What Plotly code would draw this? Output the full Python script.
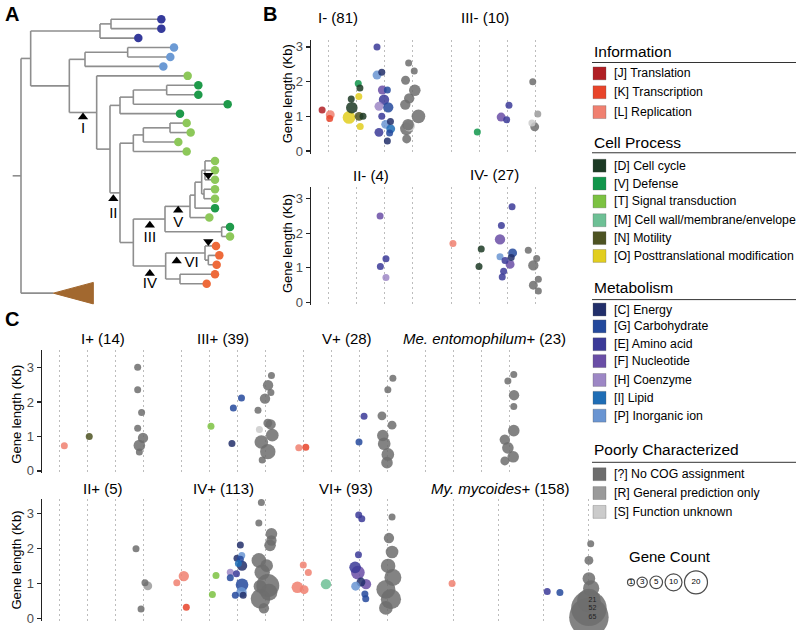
import math
import plotly.graph_objects as go

W, H = 800, 630
FONT = "Liberation Sans, Arial, Helvetica, sans-serif"

# ---------------- COG categories ----------------
COG_COLORS = {
    "J": "#B01F24", "K": "#E8442A", "L": "#F08070",
    "D": "#1C3A24", "V": "#11964B", "T": "#7CC242", "M": "#6DC095", "N": "#4D5322", "O": "#E2CE1F",
    "C": "#222F6A", "G": "#24499C", "E": "#3B3A98", "F": "#6A4EA6", "H": "#9D87C5", "I": "#1F6DB5", "P": "#6A95D2",
    "?": "#6D6D6D", "R": "#9A9A9A", "S": "#CBCBCB",
}
COG_LABELS = {
    "J": "[J] Translation", "K": "[K] Transcription", "L": "[L] Replication",
    "D": "[D] Cell cycle", "V": "[V] Defense", "T": "[T] Signal transduction",
    "M": "[M] Cell wall/membrane/envelope", "N": "[N] Motility", "O": "[O] Posttranslational modification",
    "C": "[C] Energy", "G": "[G] Carbohydrate", "E": "[E] Amino acid", "F": "[F] Nucleotide",
    "H": "[H] Coenzyme", "I": "[I] Lipid", "P": "[P] Inorganic ion",
    "?": "[?] No COG assignment", "R": "[R] General prediction only", "S": "[S] Function unknown",
}
LEGEND_GROUPS = [
    ("Information", ["J", "K", "L"]),
    ("Cell Process", ["D", "V", "T", "M", "N", "O"]),
    ("Metabolism", ["C", "G", "E", "F", "H", "I", "P"]),
    ("Poorly Characterized", ["?", "R", "S"]),
]
COG_GROUP = {c: gi + 1 for gi, (_, cs) in enumerate(LEGEND_GROUPS) for c in cs}
GENE_COUNT_KEYS = [1, 3, 5, 10, 20]

# ---------------- Panel B data ----------------
# I- (81)
bI_cog = ["J", "L", "K", "V", "D", "O", "D", "D", "O", "N", "D", "O",
          "E", "C", "P", "F", "G", "E", "H", "G", "E", "P", "C", "E", "I", "G", "C",
          "?", "?", "?", "?", "?", "?", "?", "S", "?", "?", "?"]
bI_dx = [-0.21, 0.08, 0.06, 0.08, 0.14, 0.10, -0.17, -0.15, -0.25, 0.11, 0.25, 0.15,
         -0.25, -0.08, -0.25, -0.06, 0.12, 0.0, -0.18, 0.15, -0.08, 0.06, 0.23, -0.18, 0.24, 0.2, 0.12,
         -0.12, 0.08, -0.23, 0.1, -0.1, -0.24, 0.23, -0.1, -0.2, -0.14, -0.19]
bI_kb = [1.18, 1.05, 0.94, 1.95, 1.82, 1.57, 1.50, 1.25, 0.97, 1.0, 1.0, 0.71,
         3.0, 2.27, 2.19, 1.76, 1.76, 1.48, 1.29, 1.26, 1.0, 0.77, 0.85, 0.54, 0.64, 0.52, 0.29,
         2.54, 2.31, 2.04, 1.75, 1.52, 1.34, 1.0, 0.73, 0.64, 0.76, 0.35]
bI_n = [1, 2, 1, 1, 1, 1, 1, 4, 5, 2, 1, 1,
        1, 1, 2, 2, 1, 3, 2, 3, 1, 2, 1, 2, 2, 1, 1,
        1, 1, 2, 4, 3, 3, 6, 4, 5, 4, 2]

# III- (10)
bIII_cog = ["V", "E", "F", "E", "?", "R", "S", "?"]
bIII_dx = [-0.06, 0.07, -0.21, -0.01, -0.08, 0.1, -0.11, -0.01]
bIII_kb = [0.55, 1.32, 0.98, 0.9, 2.0, 1.07, 0.81, 0.70]
bIII_n = [1, 1, 2, 1, 1, 1, 1, 2]

# II- (4)
bII_cog = ["F", "E", "E", "H"]
bII_dx = [-0.14, 0.07, -0.13, 0.07]
bII_kb = [2.49, 1.26, 1.04, 0.72]
bII_n = [1, 1, 1, 1]

# IV- (27)
bIV_cog = ["L", "D", "D", "E", "E", "F", "G", "P", "C", "E", "F", "E", "E",
           "?", "?", "?", "?", "?", "?"]
bIV_dx = [0.07, 0.08, 0.0, 0.18, -0.2, -0.25, 0.2, -0.25, 0.15, -0.07, 0.11, -0.12, -0.17,
          -0.24, 0.06, -0.06, 0.12, -0.06, 0.12]
bIV_kb = [1.70, 1.54, 1.04, 2.76, 2.22, 1.82, 1.43, 1.32, 1.3, 1.21, 1.1, 0.9, 0.74,
          1.51, 1.27, 1.07, 0.67, 0.5, 0.33]
bIV_n = [1, 1, 1, 1, 1, 3, 2, 1, 1, 1, 2, 1, 1,
         1, 1, 3, 1, 2, 1]

# ---------------- Panel C data ----------------
# I+ (14)
cI_cog = ["L", "N", "?", "?", "?", "?", "?", "?", "?"]
cI_dx = [0.19, 0.08, -0.19, -0.19, -0.05, -0.19, 0.0, -0.13, -0.13]
cI_kb = [0.73, 1.0, 3.01, 2.36, 1.70, 1.24, 0.96, 0.74, 0.55]
cI_n = [1, 1, 1, 1, 1, 1, 3, 4, 1]

# III+ (39)
cIII_cog = ["T", "G", "G", "C", "?", "?", "?", "?", "?", "?", "?", "S", "?", "?", "?", "?"]
cIII_dx = [0.07, 0.16, -0.13, -0.18, 0.23, 0.11, 0.21, 0.0, -0.25, 0.1, 0.2, -0.2, 0.26, -0.13, 0.1, -0.1]
cIII_kb = [1.30, 2.12, 1.83, 0.80, 2.77, 2.49, 2.28, 2.10, 1.76, 1.39, 1.35, 1.2, 1.04, 0.84, 0.56, 0.32]
cIII_n = [1, 1, 1, 1, 1, 3, 1, 3, 1, 2, 3, 1, 5, 6, 8, 1]

# V+ (28)
cV_cog = ["L", "K", "E", "G", "?", "?", "?", "?", "?", "?", "?", "?"]
cV_dx = [-0.15, 0.1, 0.18, 0.0, 0.21, 0.03, -0.18, 0.18, -0.15, -0.1, 0.03, 0.0]
cV_kb = [0.67, 0.69, 1.59, 0.84, 2.69, 2.36, 1.6, 1.33, 1.03, 0.79, 0.48, 0.24]
cV_n = [1, 1, 1, 1, 1, 1, 2, 2, 4, 5, 5, 4]

# Me. entomophilum+ (23)
cMe_cog = ["?", "?", "?", "?", "?", "?", "?", "?", "?"]
cMe_dx = [0.17, -0.04, 0.18, 0.17, 0.17, -0.15, -0.04, 0.15, -0.15]
cMe_kb = [2.8, 2.61, 2.2, 1.87, 1.17, 0.91, 0.67, 0.41, 0.29]
cMe_n = [1, 1, 3, 1, 4, 3, 4, 4, 2]

# II+ (5)
cII_cog = ["?", "?", "R", "?"]
cII_dx = [-0.25, 0.07, 0.17, -0.07]
cII_kb = [1.99, 1.02, 0.93, 0.27]
cII_n = [1, 1, 2, 1]

# IV+ (113)
cIV_cog = ["L", "L", "K", "T", "T",
           "C", "C", "P", "G", "I", "C", "H", "E", "G", "G", "P", "G", "C",
           "?", "?", "?", "?", "?", "?", "?", "?", "?", "?", "?", "?", "?"]
cIV_dx = [-0.15, 0.1, 0.19, 0.25, 0.12,
          0.12, 0.0, 0.17, 0.12, 0.05, 0.18, -0.24, -0.02, -0.24, 0.18, 0.16, -0.06, 0.22,
          -0.13, -0.22, 0.23, 0.23, 0.18, -0.22, 0.06, -0.1, 0.1, -0.18, 0.14, -0.16, -0.04]
cIV_kb = [1.02, 1.21, 0.32, 1.23, 0.68,
          2.1, 1.72, 1.8, 1.69, 1.57, 1.51, 1.32, 1.28, 1.16, 0.96, 0.75, 0.66, 0.66,
          3.32, 2.73, 2.42, 2.23, 2.09, 1.66, 1.51, 1.32, 0.94, 0.92, 0.75, 0.56, 0.29]
cIV_n = [1, 3, 1, 1, 1,
         1, 1, 1, 1, 1, 3, 1, 1, 1, 5, 3, 1, 1,
         1, 1, 4, 3, 4, 7, 5, 8, 20, 5, 10, 14, 3]

# VI+ (93)
cVI_cog = ["L", "L", "L", "L", "M",
           "E", "E", "E", "E", "F", "C", "F", "P", "G", "G",
           "?", "?", "?", "?", "?", "?", "?", "?"]
cVI_dx = [0.01, 0.19, -0.2, 0.04, -0.18,
          -0.01, 0.1, -0.02, -0.14, -0.04, 0.07, 0.25, -0.12, 0.21, 0.24,
          0.18, 0.07, 0.18, 0.04, 0.21, -0.04, 0.14, -0.04]
cVI_kb = [1.53, 1.31, 0.89, 0.82, 0.98,
          2.96, 2.85, 1.82, 1.46, 1.31, 1.04, 0.98, 0.92, 0.7, 0.56,
          2.9, 2.3, 1.9, 1.5, 1.17, 0.83, 0.55, 0.3]
cVI_n = [1, 1, 4, 2, 3,
         1, 1, 1, 4, 6, 2, 3, 2, 1, 1,
         1, 3, 5, 7, 10, 13, 15, 6]

# My. mycoides+ (158)
cMy_cog = ["L", "E", "G", "?", "?", "?", "?", "?", "?", "?"]
cMy_dx = [-0.02, 0.08, 0.36, 0.04, 0.0, 0.0, 0.05, 0.0, 0.0, 0.0]
cMy_kb = [1.0, 0.77, 0.74, 2.14, 1.66, 1.14, 0.86, 0.51, 0.29, 0.03]
cMy_n = [1, 1, 1, 1, 2, 5, 9, 21, 52, 65]

# ---------------- Panel A tree (x = branch end, leaves coloured) ----------------
LEAF_COLORS = {"db": "#353A9B", "lb": "#6C9AD4", "lg": "#8DC85A", "dg": "#1F9A4A", "or": "#EE6A3A"}
TREE = ("root", 63, [
    ("upper", 92, [
        ("A1", 300, [("A2", 333, [("l", 484, "db"), ("l", 484, "db")]), ("l", 415, "db")]),
        ("B", 208, [
            ("B1", 255, [("B2", 383, [("l", 522, "lb"), ("l", 511, "lb")]), ("l", 490, "lb")]),
            ("I", 290, [
                ("l", 563, "lg"),
                ("N330", 330, [
                    ("G1", 360, [("G1a", 400, [("G1b", 500, [("l", 595, "dg"), ("l", 595, "dg")]),
                                               ("l", 683, "dg")]),
                                 ("l", 540, "dg")]),
                    ("II", 360, [
                        ("G2", 400, [("G2a", 430, [("G2b", 510, [("l", 560, "lg"), ("l", 572, "lg")]),
                                                   ("l", 535, "lg")]),
                                     ("l", 560, "lg")]),
                        ("IIIIV", 400, [
                            ("III", 495, [
                                ("V", 570, [
                                    ("V1", 585, [
                                        ("V2", 605, [
                                            ("V3", 615, [("l", 645, "lg"), ("l", 645, "lg"), ("l", 645, "lg")]),
                                            ("V4", 612, [("l", 645, "lg"), ("l", 645, "lg")])]),
                                        ("l", 645, "dg")]),
                                    ("l", 628, "lg")]),
                                ("P", 665, [("l", 690, "dg"), ("l", 690, "lg")])]),
                            ("IV", 497, [
                                ("VI", 615, [("l", 648, "or"),
                                             ("VIa", 625, [("l", 658, "or"), ("l", 650, "or")])]),
                                ("IVb", 540, [("l", 645, "or"), ("l", 620, "or")])]),
                        ]),
                    ]),
                ]),
            ]),
        ]),
    ]),
    ("out", 160, "OUT"),
])
OUTGROUP_END, OUTGROUP_HALF = 280, 32.5
ROOT_STUB = 38
LEAF_Y0, LEAF_STEP = 58, 28.57
# node markers: node, symbol, label, marker dx/dy, label dx/dy, anchored at branch midpoint?
TREE_MARKS = [
    ("I", "triangle-up", "I", 0, 14, 0, 50, True),
    ("II", "triangle-up", "II", -5, 18, -5, 65, True),
    ("III", "triangle-up", "III", 2, 19, 2, 57, True),
    ("IV", "triangle-up", "IV", 1, 23, 1, 56, True),
    ("V", "triangle-up", "V", 2, 12, 2, 50, True),
    ("VI", "triangle-up", "VI", -26, 24, 19, 32, True),
    ("V3", "triangle-down", "", 10, 15, 0, 0, False),
    ("VI", "triangle-down", "", 10, -35, 0, 0, False),
]


def gene_size(n):
    return 2.4 + 4.6 * math.sqrt(n)


fig = go.Figure()
layout = dict(width=W, height=H, margin=dict(l=0, r=0, t=0, b=0), autosize=False,
              paper_bgcolor="white", plot_bgcolor="white", showlegend=False,
              font=dict(family=FONT, color="black"))
annotations = []
shapes = []


def fx(px):
    return px / W


def fy(py):
    return 1 - py / H


def text(px, py, s, size, **kw):
    d = dict(x=fx(px), y=fy(py), xref="paper", yref="paper", text=s, showarrow=False,
             font=dict(size=size, family=FONT, color=kw.pop("color", "black")),
             xanchor=kw.pop("xanchor", "center"), yanchor=kw.pop("yanchor", "middle"), borderpad=0)
    d.update(kw)
    annotations.append(d)


# ---------------- Panel A ----------------
segx, segy = [], []
leaves = []
nodes = {}
counter = [0]


def place(node, parent_x):
    name, x, kids = node
    if kids == "OUT":
        y = LEAF_Y0 + LEAF_STEP * counter[0]
        counter[0] += 1
        nodes[name] = (x, y, parent_x)
        return y
    if isinstance(kids, str):
        y = LEAF_Y0 + LEAF_STEP * counter[0]
        counter[0] += 1
        leaves.append((x, y, kids))
        return y
    ys = [place(k, x) for k in kids]
    y = (min(ys) + max(ys)) / 2
    segx.extend([x, x, None])
    segy.extend([min(ys), max(ys), None])
    for k, ky in zip(kids, ys):
        segx.extend([x, k[1], None])
        segy.extend([ky, ky, None])
    nodes[name] = (x, y, parent_x)
    return y


root_y = place(TREE, ROOT_STUB)
segx.extend([ROOT_STUB, TREE[1], None])
segy.extend([root_y, root_y, None])

fig.add_trace(go.Scatter(x=segx, y=segy, mode="lines", line=dict(color="#8E8E8E", width=1.6),
                         xaxis="x", yaxis="y", hoverinfo="skip"))
ox, oy, _ = nodes["out"]
fig.add_trace(go.Scatter(x=[ox, OUTGROUP_END, OUTGROUP_END, ox], y=[oy, oy - OUTGROUP_HALF, oy + OUTGROUP_HALF, oy],
                         mode="lines", fill="toself", fillcolor="#A2682F", line=dict(color="#A2682F", width=1),
                         xaxis="x", yaxis="y", hoverinfo="skip"))
fig.add_trace(go.Scatter(x=[l[0] for l in leaves], y=[l[1] for l in leaves], mode="markers",
                         marker=dict(size=8.5, color=[LEAF_COLORS[l[2]] for l in leaves], line=dict(width=0)),
                         xaxis="x", yaxis="y", hoverinfo="skip"))
mx, my, msym, lx, ly, lt = [], [], [], [], [], []
for name, sym, lab, mdx, mdy, ldx, ldy, mid in TREE_MARKS:
    nx, ny, px_ = nodes[name]
    bx = (nx + px_) / 2 if mid else nx
    mx.append(bx + mdx)
    my.append(ny + mdy)
    msym.append(sym)
    if lab:
        lx.append(bx + ldx)
        ly.append(ny + ldy)
        lt.append(lab)
fig.add_trace(go.Scatter(x=mx, y=my, mode="markers", marker=dict(symbol=msym, size=9, color="black"),
                         xaxis="x", yaxis="y", hoverinfo="skip"))
fig.add_trace(go.Scatter(x=lx, y=ly, mode="text", text=lt, textfont=dict(size=15, family=FONT, color="black"),
                         xaxis="x", yaxis="y", hoverinfo="skip"))
layout["xaxis"] = dict(domain=[0, fx(260)], range=[0, 780], visible=False, fixedrange=True, anchor="y")
layout["yaxis"] = dict(domain=[fy(310), 1], range=[930, 0], visible=False, fixedrange=True, anchor="x")

# ---------------- Bubble panels ----------------
PANELS = [
    # idx, data, col1 px, px/unit, zero py, px/Kb, top py, bottom py, show y axis
    (2, (bI_cog, bI_dx, bI_kb, bI_n), 328, 28, 152.3, 35, 40, 155, True),
    (3, (bIII_cog, bIII_dx, bIII_kb, bIII_n), 451, 28, 152.3, 35, 40, 155, False),
    (4, (bII_cog, bII_dx, bII_kb, bII_n), 328, 28, 305, 35, 188, 307.5, True),
    (5, (bIV_cog, bIV_dx, bIV_kb, bIV_n), 451, 28, 305, 35, 188, 307.5, False),
    (6, (cI_cog, cI_dx, cI_kb, cI_n), 59, 28, 474.7, 34.7, 353, 477, True),
    (7, (cIII_cog, cIII_dx, cIII_kb, cIII_n), 181, 28, 474.7, 34.7, 353, 477, False),
    (8, (cV_cog, cV_dx, cV_kb, cV_n), 303, 28, 474.7, 34.7, 353, 477, False),
    (9, (cMe_cog, cMe_dx, cMe_kb, cMe_n), 425, 28, 474.7, 34.7, 353, 477, False),
    (10, (cII_cog, cII_dx, cII_kb, cII_n), 59, 28, 623.3, 35.2, 503, 625.5, True),
    (11, (cIV_cog, cIV_dx, cIV_kb, cIV_n), 181, 28, 623.3, 35.2, 503, 625.5, False),
    (12, (cVI_cog, cVI_dx, cVI_kb, cVI_n), 303, 28, 623.3, 35.2, 503, 625.5, False),
    (13, (cMy_cog, cMy_dx, cMy_kb, cMy_n), 453, 45.3, 623.3, 35.2, 503, 625.5, False),
]

for idx, (cog, dx, kb, n), c1, ppu, zero, ppk, top, bot, showy in PANELS:
    layout[f"xaxis{idx}"] = dict(
        domain=[fx(c1 - 0.6 * ppu), fx(c1 + 3.6 * ppu)], range=[0.4, 4.6], anchor=f"y{idx}",
        tickvals=[1, 2, 3, 4], showticklabels=False, ticks="", showgrid=True, gridcolor="#BDBDBD",
        griddash="2px,3px", gridwidth=1, zeroline=False, showline=False, fixedrange=True)
    layout[f"yaxis{idx}"] = dict(
        domain=[fy(bot), fy(top)], range=[(zero - bot) / ppk, (zero - top) / ppk], anchor=f"x{idx}",
        showgrid=False, zeroline=False, showline=showy, linecolor="#222", linewidth=1.6,
        ticks="outside" if showy else "", ticklen=4, tickwidth=1.2, tickcolor="#222",
        tickvals=[0, 1, 2, 3], showticklabels=showy, tickfont=dict(size=13, color="#4D4D4D", family=FONT),
        fixedrange=True)
    order = sorted(range(len(cog)), key=lambda i: -n[i])
    xs = [COG_GROUP[cog[i]] + dx[i] for i in order]
    ys = [kb[i] for i in order]
    fig.add_trace(go.Scatter(
        x=xs, y=ys, mode="markers", xaxis=f"x{idx}", yaxis=f"y{idx}", hoverinfo="skip", cliponaxis=False,
        marker=dict(size=[gene_size(n[i]) for i in order], color=[COG_COLORS[cog[i]] for i in order],
                    opacity=0.85, line=dict(width=0))))
    big = [i for i in range(len(cog)) if n[i] > 20]
    if big:
        fig.add_trace(go.Scatter(
            x=[COG_GROUP[cog[i]] + dx[i] + 0.08 for i in big], y=[kb[i] for i in big], mode="text",
            text=[str(n[i]) for i in big], textfont=dict(size=7, color="#222", family=FONT), cliponaxis=False,
            xaxis=f"x{idx}", yaxis=f"y{idx}", hoverinfo="skip"))

# panel titles
for s, px, py in [("I- (81)", 338, 18), ("III- (10)", 485, 18), ("II- (4)", 371, 177), ("IV- (27)", 494, 176),
                  ("I+ (14)", 103, 341), ("III+ (39)", 223, 341), ("V+ (28)", 347, 341),
                  ("<i>Me. entomophilum</i>+ (23)", 485, 341),
                  ("II+ (5)", 103, 492), ("IV+ (113)", 223, 492), ("VI+ (93)", 346, 492),
                  ("<i>My. mycoides</i>+ (158)", 500, 492)]:
    text(px, py, s, 15)
for px, py in [(287, 95), (287, 246), (17, 418), (17, 565)]:
    text(px, py, "Gene length (Kb)", 13, textangle=-90)
for s, px, py in [("A", 12, 14), ("B", 270, 14), ("C", 12, 322)]:
    text(px, py, "<b>%s</b>" % s, 20)

# ---------------- Legend ----------------
HEAD_Y = {"Information": (52, 63), "Cell Process": (144, 154), "Metabolism": (290, 302),
          "Poorly Characterized": (453, 466)}
ROW_Y = [74, 93, 113, 167, 185, 203, 222, 240, 258, 312, 329, 347, 364, 383, 401, 419, 478, 497, 516]
ri = 0
for head, cogs in LEGEND_GROUPS:
    hy, ly_ = HEAD_Y[head]
    text(593, hy, head, 15.5, xanchor="left")
    shapes.append(dict(type="line", xref="paper", yref="paper", x0=fx(592), x1=fx(796), y0=fy(ly_), y1=fy(ly_),
                       line=dict(color="#333", width=1)))
    for c in cogs:
        y = ROW_Y[ri]
        ri += 1
        shapes.append(dict(type="rect", xref="paper", yref="paper", x0=fx(593), x1=fx(606),
                           y0=fy(y + 6.5), y1=fy(y - 6.5), fillcolor=COG_COLORS[c],
                           line=dict(color="#555", width=0.3)))
        text(613, y, COG_LABELS[c], 12.3, xanchor="left")

text(670, 561, "Gene Count", 15)
gx = []
edge = 627.5
for v in GENE_COUNT_KEYS:
    d = gene_size(v)
    gx.append(edge + d / 2)
    edge += d + 2.5
fig.add_trace(go.Scatter(
    x=gx, y=[0] * len(gx), mode="markers+text", text=[str(v) for v in GENE_COUNT_KEYS],
    textposition="middle center", textfont=dict(size=8, color="black", family=FONT),
    marker=dict(size=[gene_size(v) for v in GENE_COUNT_KEYS], color="white", line=dict(color="black", width=1.2)),
    xaxis="x14", yaxis="y14", hoverinfo="skip"))
layout["xaxis14"] = dict(domain=[fx(600), fx(740)], range=[600, 740], visible=False, fixedrange=True, anchor="y14")
layout["yaxis14"] = dict(domain=[fy(600), fy(574)], range=[-13, 13], visible=False, fixedrange=True, anchor="x14")

layout["annotations"] = annotations
layout["shapes"] = shapes
fig.update_layout(**layout)
fig.write_html("out.html", config={"displayModeBar": False, "staticPlot": True},
               post_script="document.body.style.margin='0px';document.body.style.overflow='hidden';")
